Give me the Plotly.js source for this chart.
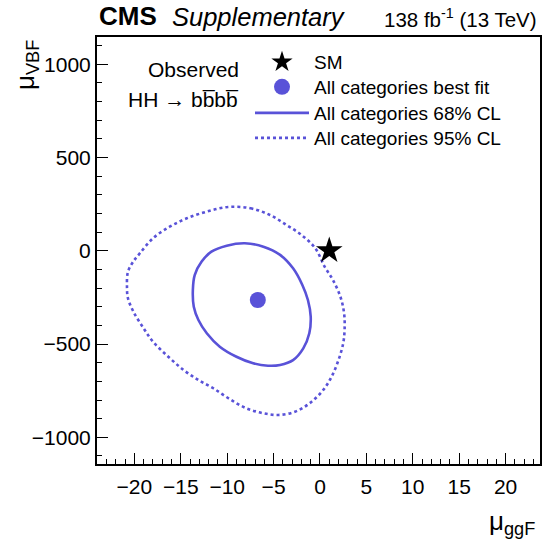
<!DOCTYPE html>
<html>
<head>
<meta charset="utf-8">
<script src="https://cdn.plot.ly/plotly-3.0.1.min.js"></script>
<style>html,body{margin:0;padding:0;background:#fff;}#chart{width:542px;height:539px;}</style>
</head>
<body>
<div id="chart"></div>
<script>
// ---- data ----
const smPoint = {x: [1], y: [1]};
const bestFit = {x: [-6.7], y: [-264]};

const cl68X = [-8.1, -6.1, -4.3, -2.9, -1.9, -1.3, -1.0, -1.15, -1.8, -2.9, -4.3, -5.6, -7.2, -9.0, -10.8, -12.2, -13.1, -13.6, -13.7, -13.5, -12.75, -11.7, -10.05, -8.1];
const cl68Y = [40, 22, -22, -94, -183, -264, -353, -442, -523, -586, -612, -616, -603, -568, -514, -442, -371, -300, -210, -130, -58, -5, 27, 40];

const cl95X = [-9.9, -7.5, -5.4, -3.6, -2.0, -0.5, 0.5, 1.4, 2.2, 2.6, 2.65, 2.5, 2.0, 1.25, 0.35, -1.1, -2.7, -4.5, -6.1, -7.9, -9.7, -11.5, -13.1, -14.7, -16.35, -18.0, -19.0, -20.1, -20.7, -20.8, -20.7, -20.15, -19.4, -18.0, -16.2, -14.35, -12.2, -9.9];
const cl95Y = [235, 228, 192, 138, 85, 13, -85, -157, -246, -335, -425, -496, -585, -675, -746, -817, -863, -880, -871, -845, -796, -737, -693, -639, -568, -487, -416, -327, -253, -192, -114, -60, -13, 67, 129, 174, 210, 235];

const xTickVals = [-20, -15, -10, -5, 0, 5, 10, 15, 20];
const yTickVals = [-1000, -500, 0, 500, 1000];

const seriesNames = ['SM', 'All categories best fit', 'All categories 68% CL', 'All categories 95% CL'];

// ---- styling ----
const BLUE = 'rgb(89,82,216)';
const FONT = 'Liberation Sans, Arial, Helvetica, sans-serif';

const traces = [
  {x: cl95X, y: cl95Y, mode: 'lines', name: seriesNames[3], legend: 'legend4',
   line: {color: BLUE, width: 2.6, dash: 'dot', shape: 'spline', smoothing: 1}},
  {x: cl68X, y: cl68Y, mode: 'lines', name: seriesNames[2], legend: 'legend3',
   line: {color: BLUE, width: 2.6, shape: 'spline', smoothing: 1}},
  {x: bestFit.x, y: bestFit.y, mode: 'markers', name: seriesNames[1], legend: 'legend2',
   marker: {symbol: 'circle', size: 16, color: BLUE}},
  {x: smPoint.x, y: smPoint.y, mode: 'markers', name: seriesNames[0], legend: 'legend',
   marker: {symbol: 'star', size: 20, color: 'black'}}
];

const W = 542, H = 539, L = 97, R = 2, T = 37, B = 75;
const pw = W - L - R, ph = H - T - B;
const px = v => (v - L) / pw;
const py = v => (H - B - v) / ph;

function leg(top) {
  return {x: px(250), y: py(top), xanchor: 'left', yanchor: 'top',
          bgcolor: 'rgba(0,0,0,0)', font: {size: 19, family: FONT}, itemwidth: 54};
}

const layout = {
  width: W, height: H,
  margin: {l: L, r: R, t: T, b: B, pad: 0},
  paper_bgcolor: '#fff', plot_bgcolor: '#fff',
  font: {family: FONT, color: '#000', size: 21},
  showlegend: true,
  legend: leg(43),
  legend2: leg(68),
  legend3: leg(94),
  legend4: leg(119),
  xaxis: {range: [-24.03, 23.71], showgrid: false, zeroline: false,
          showline: true, linewidth: 2, linecolor: '#000', mirror: true,
          ticks: 'inside', ticklen: 11, tickwidth: 1, tickcolor: '#000',
          tickvals: xTickVals, ticklabelstandoff: 3,
          minor: {dtick: 1, ticks: 'inside', ticklen: 5, tickwidth: 1, tickcolor: '#000', showgrid: false},
          tickfont: {size: 21, family: FONT}},
  yaxis: {range: [-1143, 1146], showgrid: false, zeroline: false,
          showline: true, linewidth: 2, linecolor: '#000', mirror: true,
          ticks: 'inside', ticklen: 11, tickwidth: 1, tickcolor: '#000',
          tickvals: yTickVals, ticklabelstandoff: 0,
          minor: {dtick: 100, ticks: 'inside', ticklen: 5, tickwidth: 1, tickcolor: '#000', showgrid: false},
          tickfont: {size: 21, family: FONT}},
  annotations: [
    {xref: 'paper', yref: 'paper', x: px(97), y: py(33), xanchor: 'left', yanchor: 'bottom',
     text: '<b>CMS</b>', showarrow: false, font: {size: 26, family: FONT}},
    {xref: 'paper', yref: 'paper', x: px(170), y: py(33), xanchor: 'left', yanchor: 'bottom',
     text: '<i>Supplementary</i>', showarrow: false, font: {size: 25.5, family: FONT}},
    {xref: 'paper', yref: 'paper', x: px(539), y: py(33), xanchor: 'right', yanchor: 'bottom',
     text: '138 fb<sup>-1</sup> (13 TeV)', showarrow: false, font: {size: 20.5, family: FONT}},
    {xref: 'paper', yref: 'paper', x: px(241), y: py(70), xanchor: 'right', yanchor: 'middle',
     text: 'Observed', showarrow: false, font: {size: 21, family: FONT}},
    {xref: 'paper', yref: 'paper', x: px(241), y: py(99), xanchor: 'right', yanchor: 'middle',
     text: 'HH \u2192 bb\u0305bb\u0305', showarrow: false, font: {size: 21, family: FONT}},
    {xref: 'paper', yref: 'paper', x: px(537), y: py(541), xanchor: 'right', yanchor: 'bottom',
     text: '\u03bc<sub>ggF</sub>', showarrow: false, font: {size: 26, family: FONT}},
    {xref: 'paper', yref: 'paper', x: px(26), y: py(38), xanchor: 'center', yanchor: 'top',
     textangle: -90, text: '\u03bc<sub>VBF</sub>', showarrow: false, font: {size: 26, family: FONT}}
  ]
};

Plotly.newPlot('chart', traces, layout, {staticPlot: true, displayModeBar: false});
</script>
</body>
</html>
